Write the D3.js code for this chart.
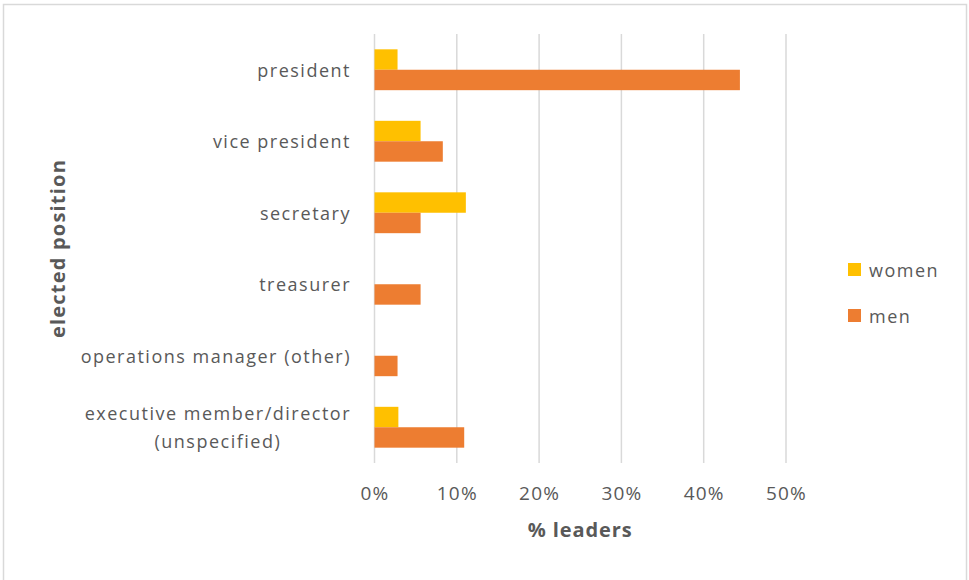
<!DOCTYPE html>
<html>
<head>
<meta charset="utf-8">
<script src="https://cdn.jsdelivr.net/npm/d3@7"></script>
<style>
  html, body { margin: 0; padding: 0; background: #fff; }
  svg { display: block; font-family: "Open Sans", Lato, sans-serif; }
</style>
</head>
<body>
<svg id="chart" width="969" height="580"></svg>
<script>
// Share of leaders holding each elected position, by gender (%)
const positions = [
  ["president"],
  ["vice president"],
  ["secretary"],
  ["treasurer"],
  ["operations manager (other)"],
  ["executive member/director", "(unspecified)"]
];
const seriesNames = ["women", "men"];
const womenValues = [2.8, 5.6, 11.1, 0, 0, 2.9];
const menValues = [44.4, 8.3, 5.6, 5.6, 2.8, 10.9];
const xTicks = [0, 10, 20, 30, 40, 50];
const colors = { women: "#FFC000", men: "#ED7D31" };

const svg = d3.select("#chart");
const textColor = "#595959";
const gridColor = "#d9d9d9";
const fontSize = 18;
const spacing = 1.5;

// chart frame
svg.append("rect")
  .attr("x", 3.5).attr("y", 4.5)
  .attr("width", 963).attr("height", 590)
  .attr("fill", "#fff").attr("stroke", gridColor).attr("stroke-width", 1.5);

const plot = { left: 374.5, right: 786, top: 34, bottom: 463 };

const x = d3.scaleLinear().domain([0, 50]).range([plot.left, plot.right]);
const y = d3.scaleBand().domain(d3.range(positions.length))
  .range([plot.top, plot.bottom]).paddingInner(0).paddingOuter(0);

// gridlines
svg.append("g").selectAll("line").data(xTicks).join("line")
  .attr("x1", d => x(d)).attr("x2", d => x(d))
  .attr("y1", plot.top).attr("y2", plot.bottom)
  .attr("stroke", gridColor).attr("stroke-width", 1.5);

// x tick labels
const xAxis = d3.axisBottom(x).tickValues(xTicks).tickFormat(d => d + "%").tickSize(0).tickPadding(0);
const gx = svg.append("g").attr("transform", `translate(0,${plot.bottom + 30})`).call(xAxis);
gx.select(".domain").remove();
gx.selectAll("text")
  .attr("fill", textColor).attr("font-size", 19)
  .attr("font-family", "'Open Sans', sans-serif")
  .attr("letter-spacing", 1.2)
  .attr("dy", null)
  .attr("dominant-baseline", "central");

// bars: women above men within each category band
const barH = y.bandwidth() / 3.5;
const rows = positions.map((p, i) => ({ i, women: womenValues[i], men: menValues[i] }));
const barLayer = svg.append("g");
seriesNames.forEach((s, k) => {
  barLayer.selectAll(null).data(rows.filter(r => r[s] > 0)).join("rect")
    .attr("x", x(0))
    .attr("y", r => y(r.i) + y.bandwidth() / 2 - barH + k * barH)
    .attr("width", r => x(r[s]) - x(0))
    .attr("height", barH)
    .attr("fill", colors[s]);
});

// category labels
const labelRight = 351;
const lineH = 28;
positions.forEach((lines, i) => {
  const cy = y(i) + y.bandwidth() / 2;
  const t = svg.append("text")
    .attr("fill", textColor).attr("font-size", fontSize)
    .attr("letter-spacing", spacing)
    .attr("dominant-baseline", "central");
  if (lines.length === 1) {
    t.attr("x", labelRight).attr("y", cy).attr("text-anchor", "end").text(lines[0]);
  } else {
    const spans = lines.map((l, j) => t.append("tspan").text(l)
      .attr("y", cy + (j - (lines.length - 1) / 2) * lineH));
    const maxW = d3.max(spans, s => s.node().getComputedTextLength());
    spans.forEach(s => s.attr("x", labelRight - maxW / 2));
    t.attr("text-anchor", "middle");
  }
});

// axis titles
svg.append("text")
  .attr("x", (plot.left + plot.right) / 2).attr("y", 529)
  .attr("text-anchor", "middle").attr("dominant-baseline", "central")
  .attr("fill", textColor).attr("font-size", 20).attr("font-weight", "bold")
  .attr("letter-spacing", 0.9)
  .text("% leaders");

svg.append("text")
  .attr("transform", `translate(57,${(plot.top + plot.bottom) / 2}) rotate(-90)`)
  .attr("text-anchor", "middle").attr("dominant-baseline", "central")
  .attr("fill", textColor).attr("font-size", 20).attr("font-weight", "bold")
  .attr("letter-spacing", 1.2)
  .text("elected position");

// legend
const legend = svg.append("g").selectAll("g").data(seriesNames).join("g")
  .attr("transform", (d, i) => `translate(848,${263 + i * 46})`);
legend.append("rect").attr("width", 13).attr("height", 13).attr("fill", d => colors[d]);
legend.append("text")
  .attr("x", 21).attr("y", 7)
  .attr("dominant-baseline", "central")
  .attr("fill", textColor).attr("font-size", fontSize)
  .attr("letter-spacing", spacing)
  .text(d => d);
</script>
</body>
</html>
